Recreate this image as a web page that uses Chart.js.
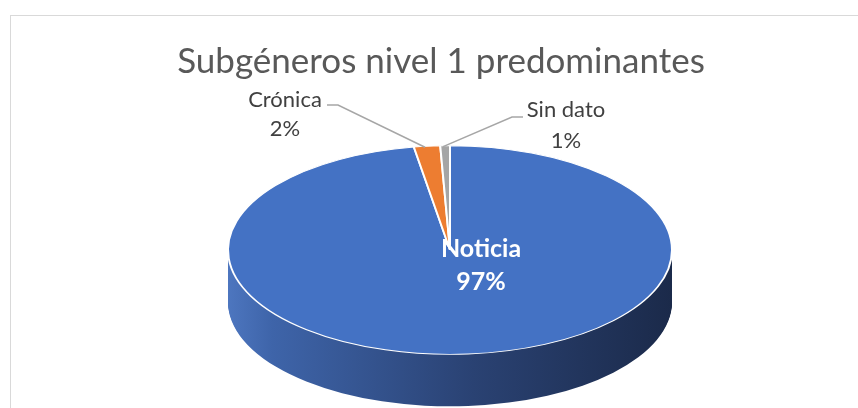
<!DOCTYPE html>
<html>
<head>
<meta charset="utf-8">
<script src="https://cdn.jsdelivr.net/npm/chart.js@4.4.1/dist/chart.umd.min.js"></script>
<style>
    html, body { margin: 0; padding: 0; background: #ffffff; }
    #wrap { position: relative; width: 858px; height: 408px; overflow: hidden; }
    #frame { position: absolute; left: 10px; top: 15px; width: 860px; height: 420px;
             border: 1.5px solid #d9d9d9; box-sizing: border-box; }
    canvas { position: absolute; left: 0; top: 0; }
</style>
</head>
<body>
<div id="wrap">
    <div id="frame"></div>
    <canvas id="chart_pie" width="858" height="520"></canvas>
</div>
<script>
var chartTitle = 'Subgéneros nivel 1 predominantes';
var labels = ['Noticia', 'Crónica', 'Sin dato'];
var values = [97.4, 1.9, 0.7];
var topColors = ['#4472c4', '#ed7d31', '#a5a5a5'];

var tilt = 0.47;   // vertical squash of the pie
var depth = 52;    // thickness of the 3d side

var Util = {
    squash: function(ctx, cx, cy) {
        ctx.translate(cx, cy);
        ctx.scale(1, tilt);
        ctx.translate(-cx, -cy);
    },
    pct: function(i) {
        var total = values.reduce(function(a, b) { return a + b; }, 0);
        return Math.round(values[i] / total * 100) + '%';
    },
    edgePoint: function(el) {
        var a = (el.startAngle + el.endAngle) / 2;
        return { x: el.x + el.outerRadius * Math.cos(a), y: el.y + tilt * el.outerRadius * Math.sin(a) };
    }
};

var pie3d = {
    id: 'pie3d',
    beforeDatasetsDraw: function(chart) {
        var ctx = chart.ctx;
        var meta = chart.getDatasetMeta(0);
        var first = meta.data[0];
        var cx = first.x, cy = first.y, r = first.outerRadius;

        var side = ctx.createLinearGradient(cx - r, 0, cx + r, 0);
        side.addColorStop(0, '#4d76bf');
        side.addColorStop(0.1, '#3e64a9');
        side.addColorStop(0.55, '#2a4273');
        side.addColorStop(1, '#1b2a4a');

        for (var d = depth; d >= 1; d--) {
            ctx.save();
            ctx.translate(0, d);
            Util.squash(ctx, cx, cy);
            meta.data.forEach(function(el) {
                var copy = Object.create(el);
                copy.options = Object.assign({}, el.options, {
                    backgroundColor: side, borderColor: side, borderWidth: 0
                });
                copy.draw(ctx);
            });
            ctx.restore();
        }
        ctx.save();
        Util.squash(ctx, cx, cy);
    },
    afterDatasetsDraw: function(chart) {
        chart.ctx.restore();
    },
    afterDraw: function(chart) {
        var ctx = chart.ctx;
        var meta = chart.getDatasetMeta(0);
        var first = meta.data[0];

        ctx.save();
        ctx.textAlign = 'center';
        ctx.textBaseline = 'middle';

        // title, sized to the width it has in the original
        ctx.fillStyle = '#595959';
        ctx.font = '34px Lato';
        var size = 34 * 527 / ctx.measureText(chartTitle).width;
        ctx.font = size.toFixed(1) + 'px Lato';
        ctx.fillText(chartTitle, 441, 62);

        // big slice label
        ctx.fillStyle = '#ffffff';
        ctx.font = 'bold 25px Lato';
        ctx.fillText(labels[0], first.x + 31, 249);
        ctx.fillText(Util.pct(0), first.x + 31, 282);

        // small slices with leader lines
        var p1 = Util.edgePoint(meta.data[1]);
        var p2 = Util.edgePoint(meta.data[2]);
        ctx.strokeStyle = '#a6a6a6';
        ctx.lineWidth = 1.5;
        ctx.beginPath();
        ctx.moveTo(327, 105);
        ctx.lineTo(338, 105);
        ctx.lineTo(p1.x - 2, p1.y + 1);
        ctx.moveTo(p2.x - 2, p2.y + 1);
        ctx.lineTo(512, 117);
        ctx.lineTo(523, 117);
        ctx.stroke();

        ctx.fillStyle = '#404040';
        ctx.font = '22px Lato';
        ctx.fillText(labels[1], 285, 100);
        ctx.fillText(Util.pct(1), 285, 129);
        ctx.fillText(labels[2], 566, 110);
        ctx.fillText(Util.pct(2), 566, 141);
        ctx.restore();
    }
};

new Chart(document.getElementById('chart_pie'), {
    type: 'pie',
    data: {
        labels: labels,
        datasets: [{
            data: values,
            backgroundColor: topColors,
            borderColor: '#ffffff',
            borderWidth: 2
        }]
    },
    options: {
        responsive: false,
        animation: false,
        layout: { padding: { left: 227, right: 185, top: 27, bottom: 47 } },
        plugins: {
            legend: { display: false },
            tooltip: { enabled: false },
            title: { display: false }
        }
    },
    plugins: [pie3d]
});
</script>
</body>
</html>
